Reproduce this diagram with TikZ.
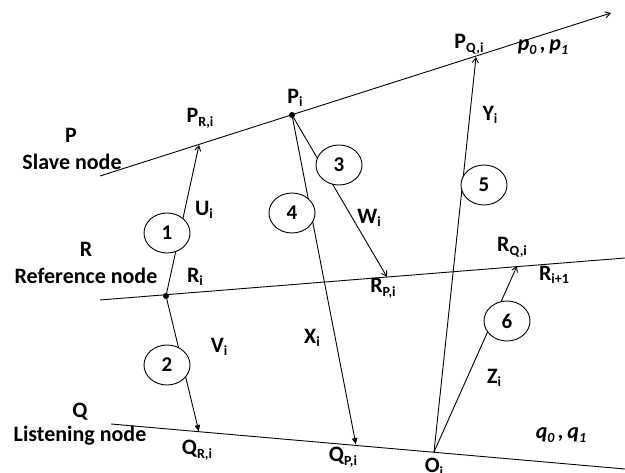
\documentclass[tikz,border=0pt]{standalone}
\usepackage{fontspec}
\setmainfont{Carlito}
\usetikzlibrary{arrows.meta,shapes.geometric}

% lowered, smaller index text
\newcommand\ix[1]{\raisebox{-0.35ex}{\fontsize{14}{14}\selectfont #1}}

\tikzset{
  base/.style={line width=0.9pt},
  upar/.style={base,-{Straight Barb[length=5pt,width=6pt]}},
  dnar/.style={base,-{Latex[length=7pt,width=6pt]}},
  num/.style={ellipse,draw,line width=0.9pt,fill=white,minimum width=46pt,minimum height=40pt,inner sep=0pt,
              font=\fontsize{21}{21}\selectfont\bfseries},
  lab/.style={font=\fontsize{22}{22}\selectfont\bfseries,inner sep=0pt},
  dot/.style={circle,fill=black,minimum size=6pt,inner sep=0pt},
}

\begin{document}
\begin{tikzpicture}[x=1pt,y=-1pt]
\useasboundingbox (0,0) rectangle (625,473);

% the three node lines
\coordinate (Pa) at (100,176);
\coordinate (Pb) at (611,13);
\coordinate (Ra) at (100,300);
\coordinate (Rb) at (625,258);
\coordinate (Qa) at (111,424);
\coordinate (Qb) at (625,469);

\draw[base] (Ra) -- (Rb);
\draw[base] (Qa) -- (Qb);
\draw[upar] (Pa) -- (Pb);

% event points on the lines
\node[dot] (Pi) at (292,115) {};
\node[dot] (Ri) at (166,296) {};
\coordinate (PRi) at (199,145);
\coordinate (PQi) at (476,57);
\coordinate (RPi) at (387,277);
\coordinate (RQi) at (517,266);
\coordinate (QRi) at (199,432);
\coordinate (QPi) at (356,445);
\coordinate (Oi) at (434,452);

% message paths
\draw[upar] (Ri.center) -- (PRi);
\draw[dnar] (Ri.center) -- (QRi);
\draw[upar] (Pi.center) -- (RPi);
\draw[dnar] (Pi.center) -- (QPi);
\draw[upar] (Oi) -- (PQi);
\draw[upar] (Oi) -- (RQi);

% numbered steps
\node[num] (n1) at (167,233) {1};
\node[num] (n2) at (167,365) {2};
\node[num] (n3) at (339,165) {3};
\node[num] (n4) at (292,213) {4};
\node[num] (n5) at (484,185) {5};
\node[num] (n6) at (507,321) {6};

% node names
\node[lab] (tP) at (71,135) {P};
\node[lab] (tPs) at (72,162) {Slave node};
\node[lab] (tR) at (86,249) {R};
\node[lab] (tRs) at (86,276) {Reference node};
\node[lab] (tQ) at (80,412) {Q};
\node[lab] (tQs) at (80,436) {Listening node};

% point labels
\node[lab] (lPi) at (295,98) {P\ix{i}};
\node[lab] (lPRi) at (200,118) {P\ix{R,i}};
\node[lab] (lPQi) at (469,44) {P\ix{Q,i}};
\node[lab] (lRi) at (195,277) {R\ix{i}};
\node[lab] (lRPi) at (383,288) {R\ix{P,i}};
\node[lab] (lRQi) at (512,247) {R\ix{Q,i}};
\node[lab] (lRi1) at (554,275) {R\ix{i+1}};
\node[lab] (lQRi) at (197,450) {Q\ix{R,i}};
\node[lab] (lQPi) at (343,457) {Q\ix{P,i}};
\node[lab] (lOi) at (434,467) {O\ix{i}};

% path labels
\node[lab] (lU) at (204,210) {U\ix{i}};
\node[lab] (lV) at (219,347) {V\ix{i}};
\node[lab] (lW) at (369,218) {W\ix{i}};
\node[lab] (lX) at (312,338) {X\ix{i}};
\node[lab] (lY) at (490,115) {Y\ix{i}};
\node[lab] (lZ) at (494,378) {Z\ix{i}};

% clock parameters
\node[lab] (pp) at (543,47) {\itshape p\ix{\itshape 0}\,,\,p\ix{\itshape 1}};
\node[lab] (qq) at (561,435) {\itshape q\ix{\itshape 0}\,,\,q\ix{\itshape 1}};
\end{tikzpicture}
\end{document}
